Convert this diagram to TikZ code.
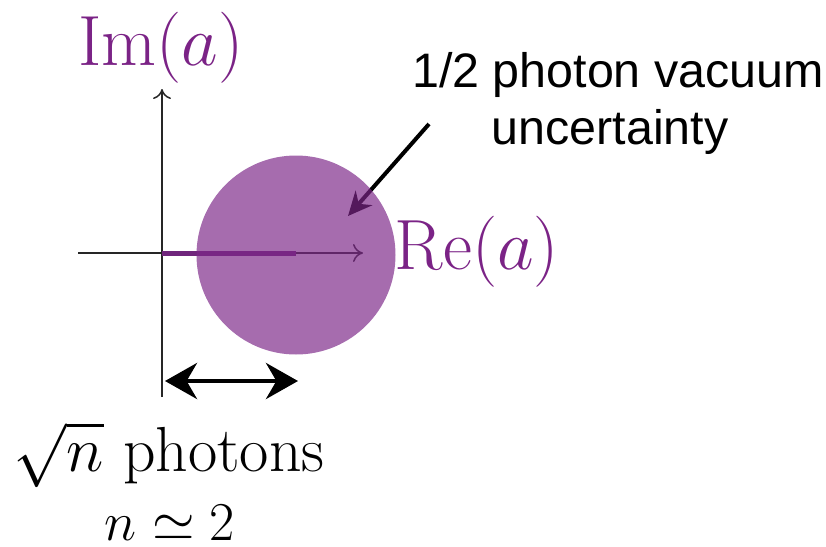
\documentclass[tikz,border=0pt]{standalone}
\usepackage{graphicx}
\usepackage{fontspec}
\newfontfamily\arialfont{Liberation Sans}
\usetikzlibrary{arrows.meta}
\definecolor{txtpurple}{RGB}{123,35,134}
\definecolor{discpurple}{RGB}{124,38,136}
\definecolor{barpurple}{RGB}{112,38,124}
\newcommand{\bigtxt}[2]{\scalebox{#1}{\fontsize{24.88}{30}\selectfont #2}}
\tikzset{
  mathlabel/.style={inner sep=0pt},
  purplelabel/.style={mathlabel, text=txtpurple},
  axis/.style={line width=0.75pt, draw=black!85, -{To[length=5pt,width=9pt]}},
  bigarrow/.style={line width=2.2pt, {Stealth[length=16pt,width=18pt]}-{Stealth[length=16pt,width=18pt]}},
  pointer/.style={line width=2pt, -{Stealth[length=12pt,width=11pt]}},
}
\begin{document}
\begin{tikzpicture}[x=0.5pt,y=-0.5pt]
\useasboundingbox (0,0) rectangle (826,547);
% coordinates
\coordinate (xl) at (78,253);
\coordinate (xr) at (363,253);
\coordinate (yb) at (162,397);
\coordinate (yt) at (162,89);
\coordinate (o) at (162,253);
\coordinate (c) at (296,253);
\coordinate (ps) at (429,124);
\coordinate (pe) at (348,216);
\coordinate (dl) at (165,381);
\coordinate (dr) at (298,381);
% axes
\draw[axis] (xl) -- (xr);
\draw[axis] (yb) -- (yt);
% amplitude bar
\draw[barpurple, line width=2.5pt] (o) -- (c);
% pointer arrow (under the disc)
\draw[pointer] (ps) -- (pe);
% disc
\fill[discpurple, fill opacity=0.68] (296,255) circle (99.5);
% double arrow
\draw[bigarrow] (dl) -- (dr);
% labels
\node[purplelabel] (im) at (161,48) {\bigtxt{1.43}{$\mathrm{Im}(a)$}};
\node[purplelabel] (re) at (477,252) {\bigtxt{1.43}{$\mathrm{Re}(a)$}};
\node[mathlabel] (ph) at (169,455) {\bigtxt{1.28}{$\sqrt{n}$ photons}};
\node[mathlabel] (n2) at (170,523) {\bigtxt{1.10}{$n\simeq 2$}};
\node[font=\arialfont\fontsize{24.2}{28.5}\selectfont, align=center, inner sep=0pt] (unc) at (618,103) {1/2 photon vacuum\\uncertainty\hspace*{8pt}};
\end{tikzpicture}
\end{document}
